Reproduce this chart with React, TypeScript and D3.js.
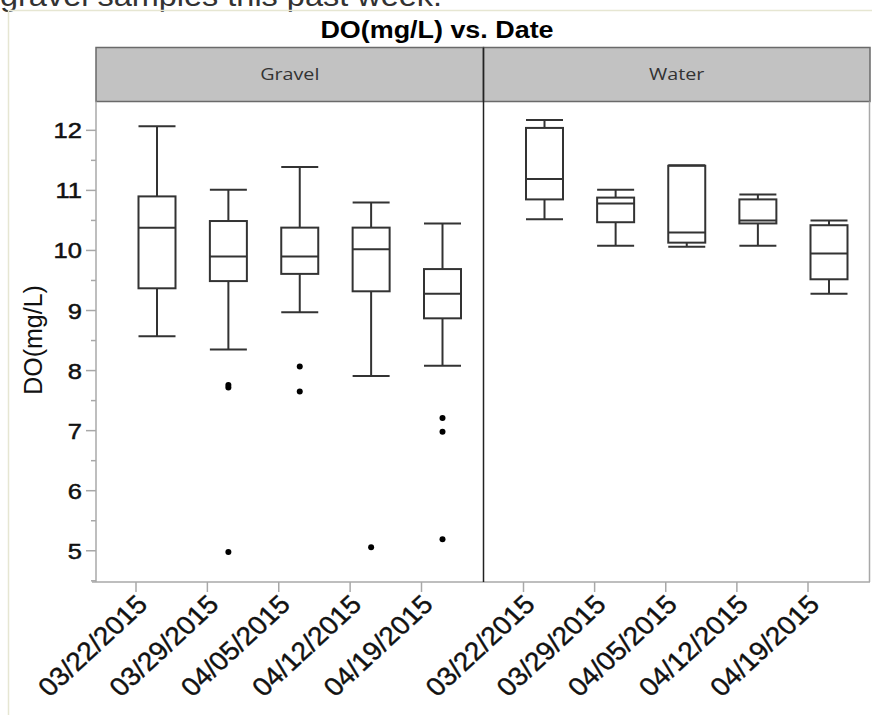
import React from "react";
import * as d3 from "d3";

const dates = ["03/22/2015", "03/29/2015", "04/05/2015", "04/12/2015", "04/19/2015"];
const groups = ["Gravel", "Water"];

const gravelLow = [8.57, 8.35, 8.97, 7.91, 8.08];
const gravelQ1 = [9.37, 9.49, 9.61, 9.32, 8.87];
const gravelMedian = [10.38, 9.9, 9.9, 10.02, 9.28];
const gravelQ3 = [10.9, 10.49, 10.38, 10.38, 9.69];
const gravelHigh = [12.07, 11.01, 11.39, 10.8, 10.45];
const gravelOutliers = [[], [7.76, 7.72, 4.98], [8.07, 7.65], [5.06], [7.21, 6.98, 5.19]];

const waterLow = [10.52, 10.08, 10.06, 10.08, 9.28];
const waterQ1 = [10.85, 10.47, 10.13, 10.45, 9.52];
const waterMedian = [11.19, 10.78, 10.3, 10.5, 9.95];
const waterQ3 = [12.04, 10.88, 11.41, 10.85, 10.42];
const waterHigh = [12.17, 11.01, 11.42, 10.93, 10.5];
const waterOutliers: number[][] = [[], [], [], [], []];

const yTicks = [5, 6, 7, 8, 9, 10, 11, 12];
const yMinorTicks = [4.5, 5.5, 6.5, 7.5, 8.5, 9.5, 10.5, 11.5];

const title = "DO(mg/L) vs. Date";
const yLabel = "DO(mg/L)";
const topText = "gravel samples this past week.";

const W = 872;
const H = 715;
const plotLeft = 96;
const plotRight = 870;
const divider = 483.5;
const headerTop = 47.5;
const headerBottom = 101.5;
const plotBottom = 582;
const SX = 1.16;

const y = d3.scaleLinear().domain([4.48, 12.48]).range([plotBottom, headerBottom]);

const panels = [
  { name: groups[0], x0: plotLeft, x1: divider, low: gravelLow, q1: gravelQ1, med: gravelMedian, q3: gravelQ3, high: gravelHigh, out: gravelOutliers },
  { name: groups[1], x0: divider, x1: plotRight, low: waterLow, q1: waterQ1, med: waterMedian, q3: waterQ3, high: waterHigh, out: waterOutliers },
];

const boxW = 37;
const boxOffset = 21;
const stroke = "#333";
const axisColor = "#a8a8a8";

function SText(props: { x: number; y: number; sx?: number; rotate?: number; children: any; [k: string]: any }) {
  const { x, y: yy, sx = SX, rotate = 0, children, ...rest } = props;
  return (
    <text transform={`translate(${x},${yy}) scale(${sx},1) rotate(${rotate})`} {...rest}>
      {children}
    </text>
  );
}

export default function App() {
  return (
    <svg width={W} height={H} style={{ position: "absolute", left: 0, top: 0, background: "#fff" }} fontFamily="'Liberation Sans', Arial, sans-serif">
      <rect x={0} y={0} width={W} height={H} fill="#fff" />
      {/* cut-off text at the top */}
      <text x={0} y={6} fontSize={30} fill="#333" textLength={442} lengthAdjust="spacingAndGlyphs">{topText}</text>
      {/* outer light frame */}
      <line x1={8} x2={W} y1={10.5} y2={10.5} stroke="#e6e6d2" strokeWidth={1.5} />
      <line x1={8.5} x2={8.5} y1={10} y2={H} stroke="#e6e6d2" strokeWidth={1.5} />

      {/* title */}
      <SText x={437} y={38} fontSize={23} fontWeight="bold" textAnchor="middle" fill="#000" sx={1.17}>{title}</SText>

      {/* headers */}
      {panels.map((p) => (
        <g key={p.name}>
          <rect x={p.x0} y={headerTop} width={p.x1 - p.x0} height={headerBottom - headerTop} fill="#c2c2c2" stroke="#6a6a6a" strokeWidth={1.5} />
          <SText x={(p.x0 + p.x1) / 2} y={80} fontSize={17} fontFamily="'Open Sans', 'Noto Sans', sans-serif" textAnchor="middle" fill="#333">{p.name}</SText>
        </g>
      ))}

      {/* plot frame */}
      <line x1={plotRight - 0.5} x2={plotRight - 0.5} y1={headerBottom} y2={plotBottom} stroke={axisColor} strokeWidth={1.5} />
      <line x1={plotLeft} x2={plotLeft} y1={headerBottom} y2={plotBottom} stroke={axisColor} strokeWidth={1.5} />
      <line x1={92} x2={plotRight} y1={plotBottom} y2={plotBottom} stroke={axisColor} strokeWidth={1.5} />
      <line x1={divider} x2={divider} y1={headerTop} y2={plotBottom} stroke="#222" strokeWidth={1.5} />

      {/* y axis ticks */}
      {yTicks.map((t) => (
        <g key={t}>
          <line x1={86} x2={plotLeft} y1={y(t)} y2={y(t)} stroke={axisColor} strokeWidth={1.5} />
          <SText x={82} y={y(t) + 8} fontSize={22} textAnchor="end" fill="#111" stroke="#111" strokeWidth={0.5}>{t}</SText>
        </g>
      ))}
      {yMinorTicks.map((t) => (
        <line key={t} x1={91} x2={plotLeft} y1={y(t)} y2={y(t)} stroke={axisColor} strokeWidth={1.5} />
      ))}
      <SText x={42} y={340} fontSize={25} textAnchor="middle" fill="#111" rotate={-90} sx={1.0}>{yLabel}</SText>

      {/* panels */}
      {panels.map((p) => {
        const x = d3.scalePoint<string>().domain(dates).range([p.x0 + 40, p.x1 - 62]);
        return (
          <g key={p.name}>
            {dates.map((d, i) => {
              const tx = x(d)!;
              const cx = tx + boxOffset;
              const l = cx - boxW / 2;
              return (
                <g key={d}>
                  <line x1={tx} x2={tx} y1={plotBottom} y2={plotBottom + 10} stroke={axisColor} strokeWidth={1.5} />
                  <SText x={tx + 13} y={606} fontSize={26} textAnchor="end" fill="#111" stroke="#111" strokeWidth={0.4} rotate={-45} sx={1.08}>{d}</SText>
                  <line x1={cx} x2={cx} y1={y(p.high[i])} y2={y(p.q3[i])} stroke={stroke} strokeWidth={2} />
                  <line x1={cx} x2={cx} y1={y(p.q1[i])} y2={y(p.low[i])} stroke={stroke} strokeWidth={2} />
                  <line x1={l} x2={l + boxW} y1={y(p.high[i])} y2={y(p.high[i])} stroke={stroke} strokeWidth={2} />
                  <line x1={l} x2={l + boxW} y1={y(p.low[i])} y2={y(p.low[i])} stroke={stroke} strokeWidth={2} />
                  <rect x={l} y={y(p.q3[i])} width={boxW} height={y(p.q1[i]) - y(p.q3[i])} fill="none" stroke={stroke} strokeWidth={2} />
                  <line x1={l} x2={l + boxW} y1={y(p.med[i])} y2={y(p.med[i])} stroke={stroke} strokeWidth={2} />
                  {p.out[i].map((o, j) => (
                    <circle key={j} cx={cx} cy={y(o)} r={3} fill="#000" />
                  ))}
                </g>
              );
            })}
          </g>
        );
      })}
    </svg>
  );
}
